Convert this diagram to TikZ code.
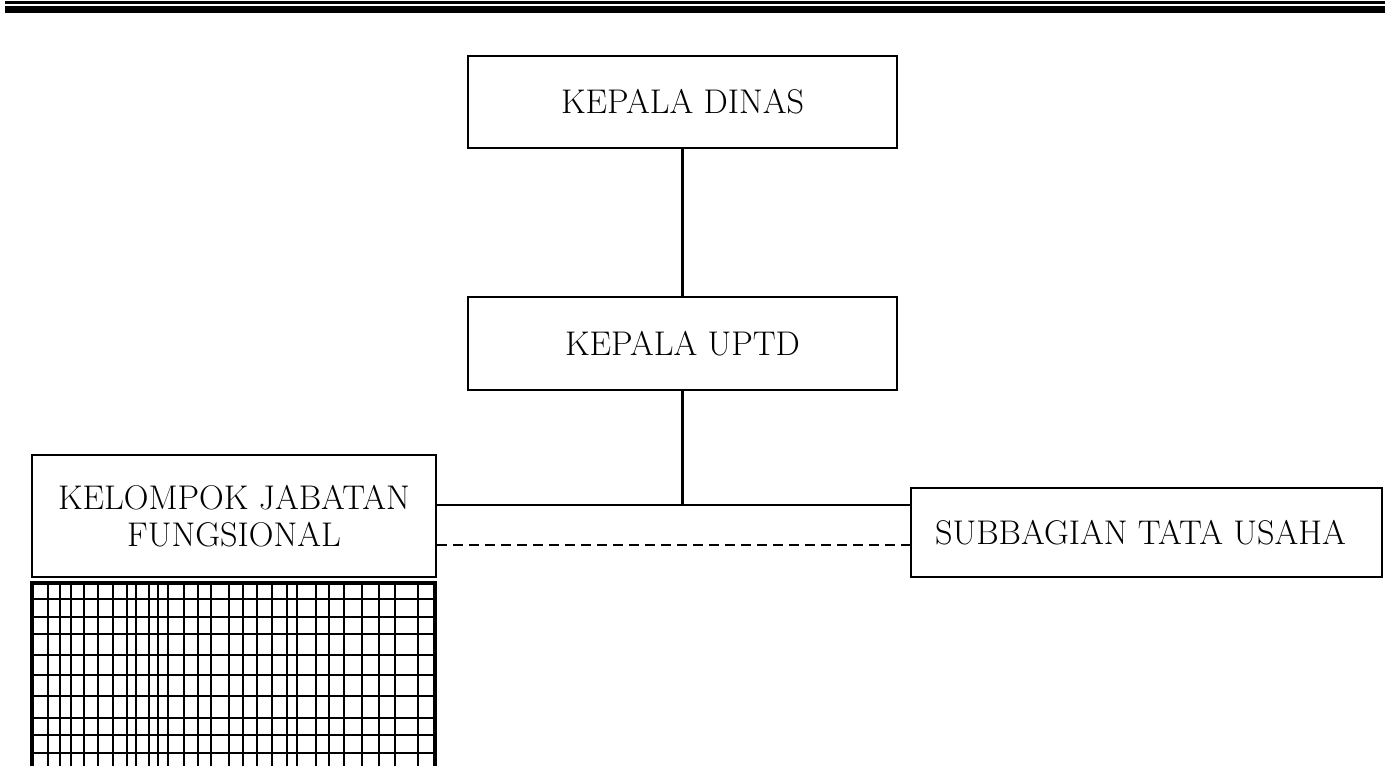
\documentclass[tikz,border=0pt]{standalone}
\usepackage{tikz}

\tikzset{
  unitbox/.style={draw, line width=1.6pt, align=center, inner sep=0pt,
    font=\fontsize{19.5}{21}\selectfont},
  link/.style={line width=1.4pt},
  dottedlink/.style={line width=1.4pt, dash pattern=on 5.7pt off 3.4pt}
}

\begin{document}
\begin{tikzpicture}[x=0.02cm, y=-0.02cm]
            \useasboundingbox (0,0) rectangle (1385,765);
            \clip (0,0) rectangle (1385,765);

            % Header rule
            \draw[line width=1.4pt] (5,2.5) -- (1385,2.5);
            \draw[line width=4pt] (5,9.5) -- (1385,9.5);

            % Boxes
            \node[unitbox, minimum width=8.58cm, minimum height=1.84cm] (dinas) at (682.5,102) {KEPALA DINAS};
            \node[unitbox, minimum width=8.58cm, minimum height=1.86cm] (uptd) at (682.5,343.5) {KEPALA UPTD};
            \node[unitbox, minimum width=8.08cm, minimum height=2.44cm] (kjf) at (234,516) {KELOMPOK JABATAN\\FUNGSIONAL};
            \node[unitbox, minimum width=9.42cm, minimum height=1.78cm] (subbag) at (1146.5,532.5) {SUBBAGIAN TATA USAHA\hspace*{0.24cm}};

            % Connectors
            \coordinate (jn) at (681,505);
            \coordinate (dash) at (681,545);
            \draw[link] (dinas.south) -- (uptd.north);
            \draw[link] (uptd.south) -- (uptd.south |- jn);
            \draw[link] (kjf.east |- jn) -- (subbag.west |- jn);
            \draw[dottedlink] (kjf.east |- dash) -- (subbag.west |- dash);

            % Grid under the functional group
            \draw[line width=1pt]
              \foreach \gx in {48.3,60,70.7,84.3,97.7,113.3,126.7,135.7,149.3,158.3,168.3,184.3,197.7,211,229,243.3,257.3,272.3,286.7,296.7,316,329.3,344.3,362.3,379,395,418.3}
                {(\gx,583) -- (\gx,775)}
              \foreach \gy in {599.3,617.3,634.3,655,675,695.7,718.3,752.7}
                {(32,\gy) -- (435,\gy)};
            \draw[line width=1pt] (32,735) -- (437,735);
            \draw[line width=2.2pt] (32,775) -- (32,583) -- (435,583) -- (435,775);
\end{tikzpicture}
\end{document}
